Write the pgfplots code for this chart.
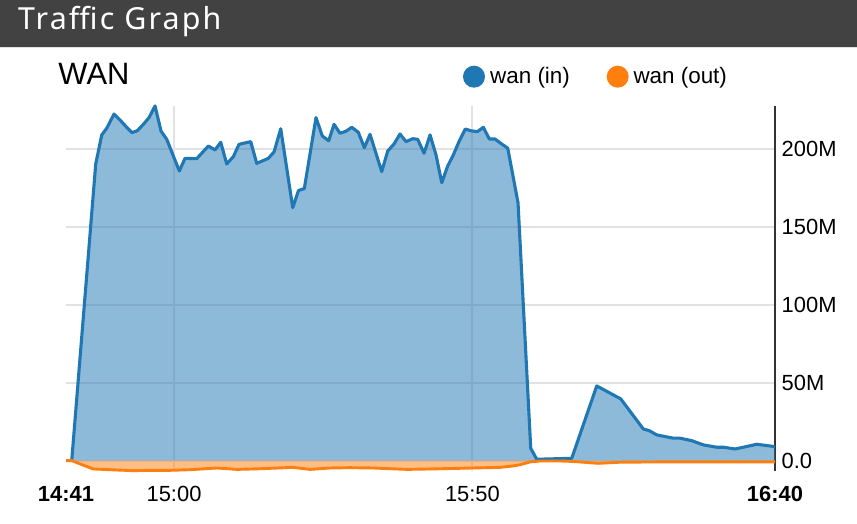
\documentclass[border=0pt]{standalone}
\usepackage{pgfplots}
\pgfplotsset{compat=1.18}
\usepackage{fontspec}
\setmainfont{Liberation Sans}
\newfontfamily\titlefont[LetterSpace=7]{Noto Sans}
\definecolor{cin}{HTML}{1F77B4}
\definecolor{cout}{HTML}{FF7F0E}
\definecolor{bar}{HTML}{424242}
\definecolor{gridc}{HTML}{E2E2E2}
\begin{document}
\begin{tikzpicture}[x=1bp,y=1bp]
\useasboundingbox (0,0) rectangle (857,524);
\fill[white] (0,0) rectangle (857,524);
\fill[bar] (0,477.3) rectangle (857,524);
\draw[gridc,line width=1bp] (0,476.8) -- (857,476.8);
\node[anchor=base west,inner sep=0pt,text=white,font=\titlefont\fontsize{30.5}{36}\selectfont] at (18,494) {Traffic Graph};
\node[anchor=base west,inner sep=0pt,font=\fontsize{31}{37}\selectfont] at (58.3,439) {WAN};
\fill[cin] (474,447.3) circle (11);
\node[anchor=base west,inner sep=0pt,font=\fontsize{22.5}{27}\selectfont] at (490,440) {wan (in)};
\fill[cout] (617.7,447.3) circle (11);
\node[anchor=base west,inner sep=0pt,font=\fontsize{22.5}{27}\selectfont] at (633.3,440) {wan (out)};
\begin{axis}[
  at={(66bp,53.2bp)}, anchor=south west,
  scale only axis, width=709bp, height=365bp,
  xmin=41.9, xmax=160.7, ymin=-6.5, ymax=227.5,
  clip=false,
  axis y line*=right, axis x line*=bottom,
  x axis line style={draw=none},
  y axis line style={draw=black!80, line width=1.2bp},
  major tick length=0pt,
  xtick={60,110}, xticklabels={15:00,15:50},
  extra x ticks={41.9,160.7},
  extra x tick labels={\textbf{14:41},\textbf{16:40}},
  extra x tick style={grid=none},
  ytick={0,50,100,150,200},
  yticklabels={0.0,50M,100M,150M,200M},
  grid=major,
  major grid style={draw=gridc, line width=2bp},
  /pgf/number format/assume math mode=true,
  tick label style={font=\fontsize{22}{26}\selectfont, inner sep=0pt},
  xticklabel style={anchor=base, yshift=-30.9bp},
  yticklabel style={anchor=west, xshift=6.5bp},
]
\addplot[draw=none, fill=cout, fill opacity=0.5] coordinates {
(41.90,0) (42.86,0) (46.43,-5.3) (50.45,-6.0) (53.13,-6.4) (55.98,-6.2) (59.33,-6.2) (62.68,-5.8) (67.21,-4.7) (70.56,-5.6) (74.41,-5.2) (79.94,-4.3) (82.79,-5.6) (86.14,-4.7) (89.49,-4.5) (93.34,-4.7) (99.04,-5.6) (104.57,-5.2) (110.10,-4.7) (114.62,-4.3) (116.80,-3.4) (117.98,-2.6) (119.66,-0.8) (121.33,-0.2) (124.68,-0.2) (126.86,-0.5) (131.05,-1.7) (134.74,-1.0) (141.44,-0.8) (151.50,-0.8) (160.70,-0.8)
} \closedcycle;
\addplot[draw=none, fill=cin, fill opacity=0.5] coordinates {
(42.86,0) (46.88,190.2) (47.89,208.8) (48.72,213.1) (49.95,222.2) (50.95,218.4) (52.07,213.7) (52.96,210.3) (53.85,211.5) (54.86,215.6) (55.81,219.9) (56.82,227.4) (57.82,211.3) (58.78,206.0) (60.89,185.7) (61.84,193.8) (63.80,193.6) (65.75,201.7) (66.87,199.2) (67.83,204.1) (68.83,190.2) (69.94,194.9) (70.89,202.8) (72.85,204.5) (73.86,190.6) (75.80,193.8) (76.76,197.9) (77.88,212.8) (79.89,162.2) (80.86,173.2) (81.83,174.4) (83.79,219.9) (84.85,208.1) (85.92,205.1) (86.81,215.6) (87.81,209.9) (88.82,211.2) (89.78,213.7) (90.88,210.5) (91.89,200.6) (92.84,209.2) (94.80,185.3) (95.81,198.5) (96.86,203.0) (97.87,209.4) (98.87,204.5) (100.00,206.4) (100.83,206.0) (101.89,197.1) (102.90,208.8) (103.90,196.0) (104.86,178.2) (105.86,188.9) (106.80,196.0) (107.75,204.5) (108.81,212.6) (109.72,211.5) (110.82,210.9) (111.83,213.7) (112.83,206.2) (113.79,206.2) (114.91,203.0) (115.92,200.3) (117.64,165.3) (119.77,7.9) (120.78,0.9) (126.64,1.5) (130.83,47.9) (134.85,39.6) (138.64,20.3) (139.65,19.2) (140.89,16.5) (143.67,14.4) (144.79,14.4) (146.75,12.8) (148.69,10.1) (150.93,8.6) (152.04,8.6) (154.00,7.5) (155.40,8.6) (157.64,10.5) (160.70,9.0)
} \closedcycle;
\addplot[cin, line width=3.1bp, line join=round] coordinates {
(42.86,0) (46.88,190.2) (47.89,208.8) (48.72,213.1) (49.95,222.2) (50.95,218.4) (52.07,213.7) (52.96,210.3) (53.85,211.5) (54.86,215.6) (55.81,219.9) (56.82,227.4) (57.82,211.3) (58.78,206.0) (60.89,185.7) (61.84,193.8) (63.80,193.6) (65.75,201.7) (66.87,199.2) (67.83,204.1) (68.83,190.2) (69.94,194.9) (70.89,202.8) (72.85,204.5) (73.86,190.6) (75.80,193.8) (76.76,197.9) (77.88,212.8) (79.89,162.2) (80.86,173.2) (81.83,174.4) (83.79,219.9) (84.85,208.1) (85.92,205.1) (86.81,215.6) (87.81,209.9) (88.82,211.2) (89.78,213.7) (90.88,210.5) (91.89,200.6) (92.84,209.2) (94.80,185.3) (95.81,198.5) (96.86,203.0) (97.87,209.4) (98.87,204.5) (100.00,206.4) (100.83,206.0) (101.89,197.1) (102.90,208.8) (103.90,196.0) (104.86,178.2) (105.86,188.9) (106.80,196.0) (107.75,204.5) (108.81,212.6) (109.72,211.5) (110.82,210.9) (111.83,213.7) (112.83,206.2) (113.79,206.2) (114.91,203.0) (115.92,200.3) (117.64,165.3) (119.77,7.9) (120.78,0.9) (126.64,1.5) (130.83,47.9) (134.85,39.6) (138.64,20.3) (139.65,19.2) (140.89,16.5) (143.67,14.4) (144.79,14.4) (146.75,12.8) (148.69,10.1) (150.93,8.6) (152.04,8.6) (154.00,7.5) (155.40,8.6) (157.64,10.5) (160.70,9.0)
};
\addplot[cout, line width=2.9bp, line join=round] coordinates {
(41.90,0) (42.86,0) (46.43,-5.3) (50.45,-6.0) (53.13,-6.4) (55.98,-6.2) (59.33,-6.2) (62.68,-5.8) (67.21,-4.7) (70.56,-5.6) (74.41,-5.2) (79.94,-4.3) (82.79,-5.6) (86.14,-4.7) (89.49,-4.5) (93.34,-4.7) (99.04,-5.6) (104.57,-5.2) (110.10,-4.7) (114.62,-4.3) (116.80,-3.4) (117.98,-2.6) (119.66,-0.8) (121.33,-0.2) (124.68,-0.2) (126.86,-0.5) (131.05,-1.7) (134.74,-1.0) (141.44,-0.8) (151.50,-0.8) (160.70,-0.8)
};
\end{axis}
\end{tikzpicture}
\end{document}
